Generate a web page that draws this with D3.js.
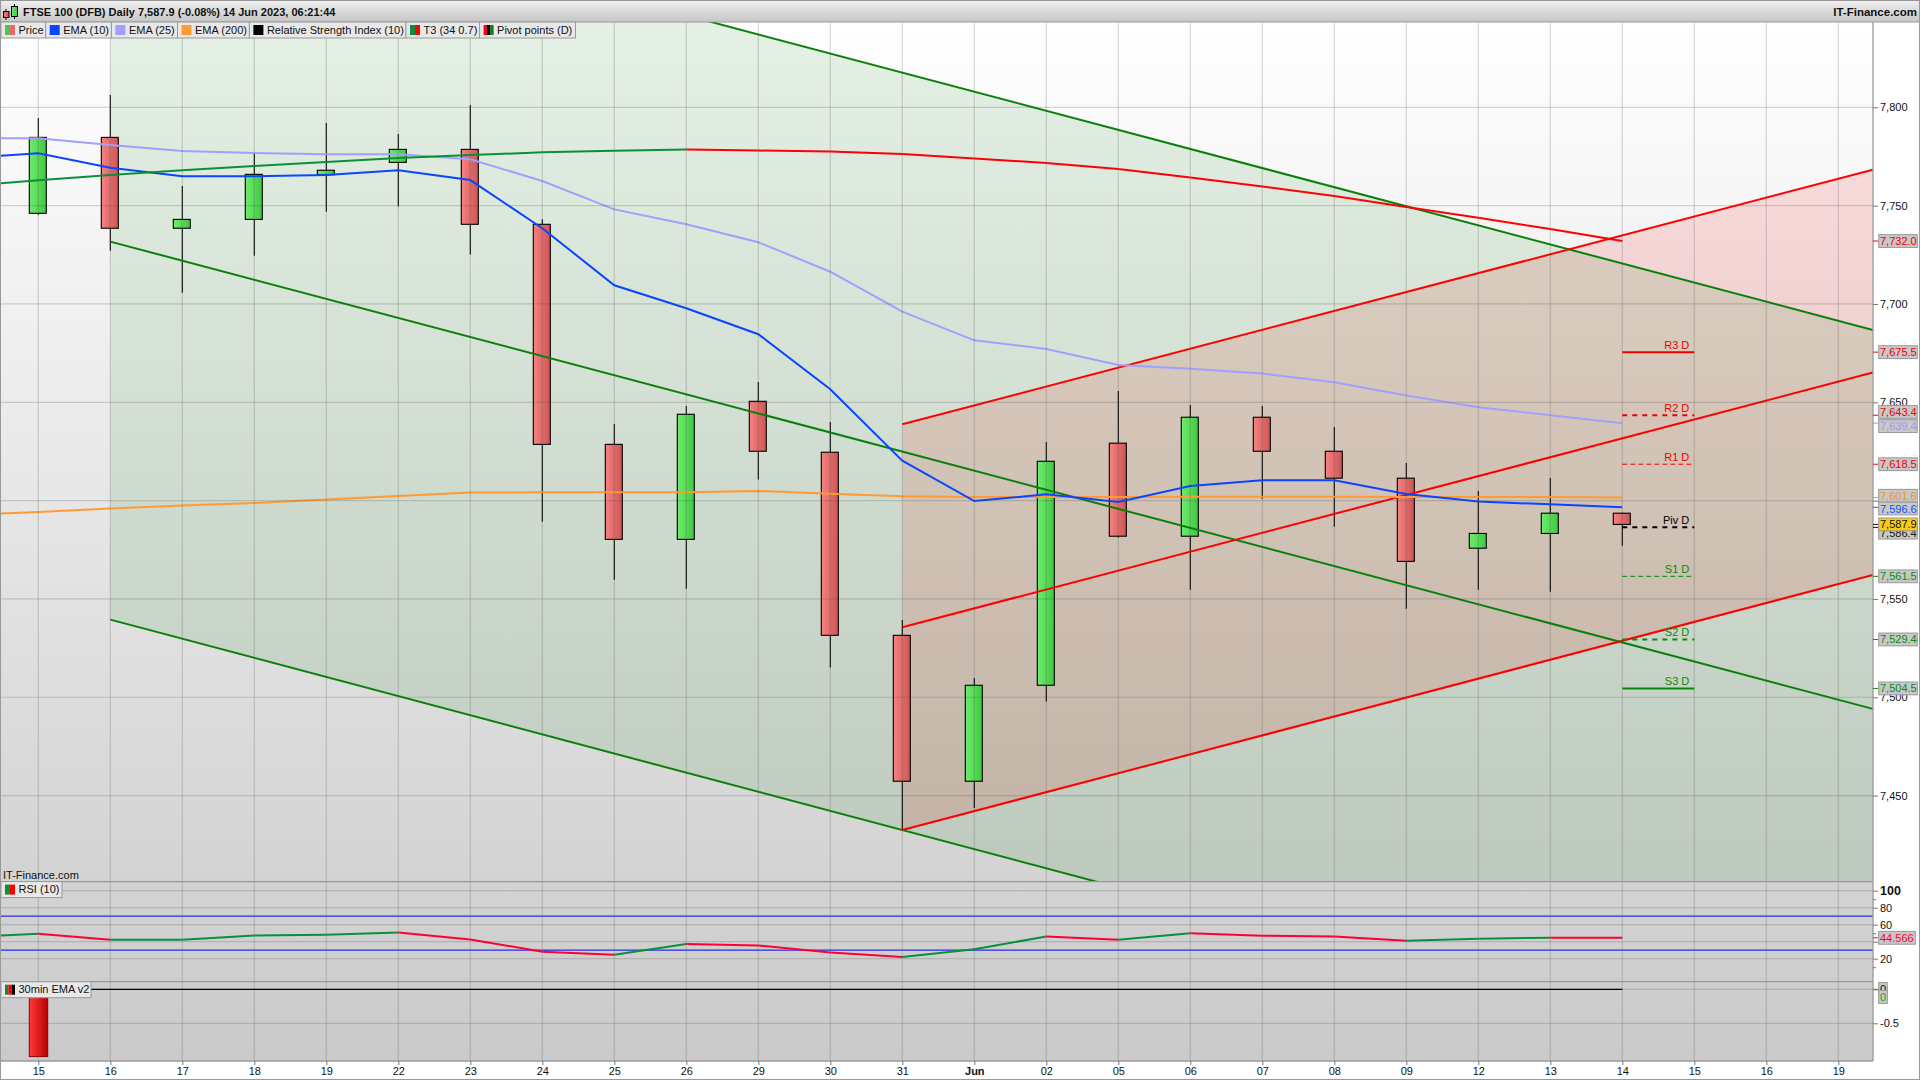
<!DOCTYPE html>
<html>
  <head>
    <title>FTSE 100 (DFB) Daily</title>
    <script src="https://d3js.org/d3.v7.min.js"></script>
    <style>
      html, body { margin: 0; padding: 0; background: #fff; overflow: hidden; }
      text { font-family: "Liberation Sans", Arial, sans-serif; font-size: 11px; fill: #111; }
      .axis path { display: none; }
      .axis line { stroke: #777; }
    </style>
  </head>
  <body>
    <div id="chart"></div>
    <script>
      // dates on the bottom axis, one per slot
      var dateLabels = ["15","16","17","18","19","22","23","24","25","26","29","30","31","Jun","02","05","06","07","08","09","12","13","14","15","16","19"];

      // candles
      var opens  = [7746.1,7784.7,7738.5,7743.0,7765.7,7772.0,7778.6,7740.5,7628.6,7580.3,7650.5,7624.6,7531.5,7457.3,7506.1,7629.2,7581.9,7642.4,7625.1,7611.4,7575.8,7583.3,7593.6];
      var highs  = [7794.6,7806.3,7760.0,7777.1,7792.0,7786.4,7801.2,7743.1,7639.0,7648.1,7660.3,7640.0,7539.3,7509.8,7629.8,7655.7,7648.6,7648.1,7637.4,7619.1,7604.9,7611.5,7594.0];
      var lows   = [7745.2,7727.1,7705.7,7724.5,7746.9,7749.5,7725.1,7589.3,7559.8,7555.2,7610.7,7515.1,7432.5,7443.7,7497.8,7581.2,7554.7,7601.0,7586.7,7545.0,7554.7,7553.7,7577.0];
      var closes = [7784.7,7738.5,7743.0,7765.9,7768.0,7778.6,7740.5,7628.6,7580.3,7643.9,7625.1,7531.5,7457.3,7506.1,7620.0,7581.9,7642.4,7625.1,7611.4,7569.1,7583.3,7593.6,7587.9];

      // moving averages, first value is the slot before the 15th (runs off the left edge)
      var ema10  = [7774.2,7776.6,7769.3,7764.9,7764.9,7765.6,7768.0,7763.0,7738.5,7709.5,7697.8,7684.6,7656.6,7620.3,7599.8,7603.2,7599.3,7607.4,7610.3,7610.3,7603.4,7599.5,7598.1,7596.6];
      var ema25  = [7784.2,7784.2,7780.8,7777.8,7776.8,7776.1,7776.1,7773.6,7762.5,7748.1,7740.5,7731.4,7716.4,7696.1,7681.5,7677.1,7669.0,7667.1,7664.6,7660.2,7653.5,7647.5,7643.4,7639.4];
      var ema200 = [7592.7,7594.2,7596.0,7597.5,7598.8,7600.6,7602.4,7604.1,7604.2,7604.2,7604.2,7604.9,7603.5,7602.2,7601.9,7601.9,7601.9,7602.0,7602.0,7602.0,7601.9,7601.9,7601.9,7601.6];
      var t3     = [7760.0,7762.9,7765.6,7768.0,7770.2,7772.2,7774.2,7775.7,7777.1,7777.9,7778.5,7778.0,7777.5,7776.3,7774.0,7771.7,7768.6,7764.3,7759.7,7754.9,7749.3,7743.8,7738.1,7732.0];

      // trend channels: [slot, price] at both ends
      var greenUpper = [[1,7924.4],[25.48,7686.8]];
      var greenMid   = [[1,7731.7],[25.48,7494.1]];
      var greenLower = [[1,7539.5],[25.48,7301.3]];
      var redUpper   = [[12,7638.8],[25.48,7768.3]];
      var redMid     = [[12,7535.6],[25.48,7665.1]];
      var redLower   = [[12,7432.5],[25.48,7562.2]];

      // pivot points
      var pivotNames  = ["R3 D","R2 D","R1 D","Piv D","S1 D","S2 D","S3 D"];
      var pivotValues = [7675.5,7643.4,7618.5,7586.4,7561.5,7529.4,7504.5];

      // last value boxes on the price axis
      var tagValues = [7732.0,7675.5,7643.4,7639.4,7618.5,7601.6,7596.6,7586.4,7587.9,7561.5,7529.4,7504.5];

      // RSI
      var rsi = [45.4,49.4,42.4,42.4,47.4,48.2,50.9,42.7,28.2,24.7,37.2,35.6,27.4,21.9,31.0,46.2,42.4,49.8,47.0,46.2,41.2,43.5,44.7,44.566];

      // 30min EMA v2
      var ema30Bars = [-0.99];
      var ema30Line = [0,0];

      var priceTicks = [7450,7500,7550,7600,7650,7700,7750,7800];
      var rsiTicks = [100,80,60,40,20];
      var rsiMinor = [90,50,10];
      var rsiBands = [70,30];
      var ema30Ticks = [0,-0.5];
      var legendNames = ["Price","EMA (10)","EMA (25)","EMA (200)","Relative Strength Index (10)","T3 (34 0.7)","Pivot points (D)"];

      var width = 1920, height = 1080;
      var plotRight = 1873, plotTop = 22, priceBottom = 881.6, rsiBottom = 981.7, plotBottom = 1061;

      var tagColors = ["#f00000","#f00000","#f00000","#9a9af5","#f00000","#f09030","#1050ff","#111","#111","#0a8a0a","#0a8a0a","#0a8a0a"];
      // boxes get pushed apart where they would collide
      var tagNudge = [0,0,-3.3,3,0,-1.7,1.2,5.3,0,0,0,0];

      var svg = d3.select("#chart").append("svg")
        .attr("width", width)
        .attr("height", height)
        .style("display", "block");
      var defs = svg.append("defs");

      function gradient(id, stops, vertical) {
        var g = defs.append("linearGradient").attr("id", id)
          .attr("x1", 0).attr("y1", 0)
          .attr("x2", vertical ? 0 : 1).attr("y2", vertical ? 1 : 0);
        stops.forEach(function(c, i) {
          g.append("stop").attr("offset", i / (stops.length - 1)).attr("stop-color", c);
        });
      }
      gradient("bg", ["#ffffff", "#cacaca"], true);
      gradient("head", ["#eeeeee", "#c6c6c6"], true);
      gradient("up", ["#6eec6e", "#40c840"], false);
      gradient("down", ["#f88282", "#cc5656"], false);
      gradient("redbar", ["#ff3a3a", "#b80000"], false);

      function clip(id, y0, y1) {
        defs.append("clipPath").attr("id", id).append("rect")
          .attr("x", 1).attr("y", y0).attr("width", plotRight - 1).attr("height", y1 - y0);
      }
      clip("clipPrice", plotTop, priceBottom);
      clip("clipRsi", priceBottom, rsiBottom);
      clip("clipEma", rsiBottom, plotBottom);

      var x = d3.scaleLinear().domain([0, 25]).range([38.3, 1838.3]);
      var y = d3.scaleLinear().domain([7800, 7450]).range([107.3, 795.6]);
      var yRsi = d3.scaleLinear().domain([100, 20]).range([890.7, 958.7]);
      var yEma = d3.scaleLinear().domain([0, -0.5]).range([989.3, 1023.3]);

      // background
      svg.append("rect").attr("x", 1).attr("y", plotTop)
        .attr("width", plotRight - 1).attr("height", plotBottom - plotTop)
        .attr("fill", "url(#bg)");

      // channel fills, red goes under green
      var price = svg.append("g").attr("clip-path", "url(#clipPrice)");
      function channelFill(a, b, color) {
        var pts = [a[0], a[1], b[1], b[0]];
        price.append("polygon")
          .attr("points", pts.map(function(p) { return x(p[0]) + "," + y(p[1]); }).join(" "))
          .attr("fill", color);
      }
      channelFill(redUpper, redLower, "rgba(255,0,0,0.12)");
      channelFill(greenUpper, greenLower, "rgba(20,130,20,0.115)");

      // grid
      var grid = svg.append("g").attr("stroke", "rgba(70,70,70,0.21)").attr("stroke-width", 1.2);
      grid.selectAll("line.v").data(dateLabels).enter().append("line")
        .attr("x1", function(d, i) { return x(i); })
        .attr("x2", function(d, i) { return x(i); })
        .attr("y1", plotTop).attr("y2", plotBottom);
      function hGrid(ticks, scale) {
        grid.selectAll(null).data(ticks).enter().append("line")
          .attr("x1", 1).attr("x2", plotRight)
          .attr("y1", function(d) { return scale(d); })
          .attr("y2", function(d) { return scale(d); });
      }
      hGrid(priceTicks, y);
      hGrid(rsiTicks, yRsi);
      hGrid(ema30Ticks, yEma);

      // candles
      var candles = price.selectAll("g.candle").data(opens).enter().append("g");
      candles.append("line")
        .attr("x1", function(d, i) { return x(i); })
        .attr("x2", function(d, i) { return x(i); })
        .attr("y1", function(d, i) { return y(highs[i]); })
        .attr("y2", function(d, i) { return y(lows[i]); })
        .attr("stroke", "#000").attr("stroke-width", 1.1);
      candles.append("rect")
        .attr("x", function(d, i) { return x(i) - 9; })
        .attr("width", 17)
        .attr("y", function(d, i) { return y(Math.max(opens[i], closes[i])); })
        .attr("height", function(d, i) { return Math.abs(y(opens[i]) - y(closes[i])); })
        .attr("fill", function(d, i) { return closes[i] > opens[i] ? "url(#up)" : "url(#down)"; })
        .attr("stroke", "#000").attr("stroke-width", 1.1);

      // channel lines
      var channelLine = d3.line().x(function(d) { return x(d[0]); }).y(function(d) { return y(d[1]); });
      [greenUpper, greenMid, greenLower].forEach(function(l) {
        price.append("path").attr("d", channelLine(l)).attr("fill", "none").attr("stroke", "#0a800a").attr("stroke-width", 2);
      });
      [redUpper, redMid, redLower].forEach(function(l) {
        price.append("path").attr("d", channelLine(l)).attr("fill", "none").attr("stroke", "#ff0000").attr("stroke-width", 2);
      });

      // indicator lines, slot of element n is n - 1
      var seriesLine = d3.line().x(function(d, i) { return x(i - 1); }).y(function(d) { return y(d); });
      function drawSeries(values, color) {
        price.append("path").attr("d", seriesLine(values)).attr("fill", "none").attr("stroke", color).attr("stroke-width", 2);
      }
      drawSeries(ema200, "#ff9a35");
      drawSeries(ema25, "#a0a0ff");
      drawSeries(ema10, "#0a46ff");

      // T3 changes colour per segment
      price.selectAll("line.t3").data(t3.slice(1)).enter().append("line")
        .attr("x1", function(d, i) { return x(i - 1); })
        .attr("y1", function(d, i) { return y(t3[i]); })
        .attr("x2", function(d, i) { return x(i); })
        .attr("y2", function(d) { return y(d); })
        .attr("stroke", function(d, i) { return d >= t3[i] ? "#08903a" : "#ff0000"; })
        .attr("stroke-width", 2);

      // pivots
      var pivotColor = ["#f00000","#f00000","#f00000","#000","#0a8a0a","#0a8a0a","#0a8a0a"];
      var pivotDash = [null, "5 5", "5 3", "5 5", "5 3", "5 5", null];
      var pivotWidth = [2, 2, 1, 2, 1, 2, 2];
      var pivots = svg.append("g");
      pivots.selectAll("line").data(pivotValues).enter().append("line")
        .attr("x1", x(22)).attr("x2", x(23))
        .attr("y1", function(d) { return y(d); })
        .attr("y2", function(d) { return y(d); })
        .attr("stroke", function(d, i) { return pivotColor[i]; })
        .attr("stroke-width", function(d, i) { return pivotWidth[i]; })
        .attr("stroke-dasharray", function(d, i) { return pivotDash[i]; });
      pivots.selectAll("text").data(pivotValues).enter().append("text")
        .attr("x", x(23) - 5).attr("y", function(d) { return y(d) - 3.5; })
        .attr("text-anchor", "end")
        .style("fill", function(d, i) { return pivotColor[i]; })
        .text(function(d, i) { return pivotNames[i]; });

      // RSI panel
      var rsiPanel = svg.append("g").attr("clip-path", "url(#clipRsi)");
      rsiPanel.selectAll("line.band").data(rsiBands).enter().append("line")
        .attr("x1", 1).attr("x2", plotRight)
        .attr("y1", function(d) { return yRsi(d); })
        .attr("y2", function(d) { return yRsi(d); })
        .attr("stroke", "#2a2ae8").attr("stroke-width", 1.2);
      rsiPanel.selectAll("line.rsi").data(rsi.slice(1)).enter().append("line")
        .attr("x1", function(d, i) { return x(i - 1); })
        .attr("y1", function(d, i) { return yRsi(rsi[i]); })
        .attr("x2", function(d, i) { return x(i); })
        .attr("y2", function(d) { return yRsi(d); })
        .attr("stroke", function(d, i) { return d >= rsi[i] ? "#08903a" : "#ff0033"; })
        .attr("stroke-width", 2);

      // 30min EMA panel
      var emaPanel = svg.append("g").attr("clip-path", "url(#clipEma)");
      emaPanel.selectAll("rect").data(ema30Bars).enter().append("rect")
        .attr("x", function(d, i) { return x(i) - 9; })
        .attr("width", 18.4)
        .attr("y", yEma(0))
        .attr("height", function(d) { return yEma(d) - yEma(0); })
        .attr("fill", "url(#redbar)")
        .attr("stroke", "#8a0000");
      emaPanel.append("path")
        .attr("d", d3.line().x(function(d, i) { return i === 0 ? 1 : x(22); }).y(function(d) { return yEma(d); })(ema30Line))
        .attr("stroke", "#000").attr("stroke-width", 1.2);

      // panel frames
      var frame = svg.append("g").attr("stroke", "#999").attr("stroke-width", 1.3);
      [priceBottom, rsiBottom, plotBottom].forEach(function(v) {
        frame.append("line").attr("x1", 0).attr("x2", plotRight).attr("y1", v).attr("y2", v);
      });
      frame.append("line").attr("x1", plotRight).attr("x2", plotRight).attr("y1", plotTop).attr("y2", plotBottom);
      svg.append("rect").attr("x", 0.5).attr("y", 0.5).attr("width", width - 1).attr("height", height - 1)
        .attr("fill", "none").attr("stroke", "#999");

      // axes
      var fmt = d3.format(",");
      svg.append("g").attr("class", "axis")
        .attr("transform", "translate(" + plotRight + ",0)")
        .call(d3.axisRight(y).tickValues(priceTicks).tickFormat(fmt).tickSize(5).tickPadding(2));
      // the 40 label is hidden behind the RSI value box in the reference
      var rsiAxis = svg.append("g").attr("class", "axis")
        .attr("transform", "translate(" + plotRight + ",0)")
        .call(d3.axisRight(yRsi).tickValues(rsiTicks).tickFormat(function(d) { return d === 40 ? "" : d; }).tickSize(5).tickPadding(2));
      rsiAxis.selectAll("text").filter(function(d) { return d === 100; })
        .style("font-weight", "bold").style("font-size", "12.5px");
      svg.append("g").attr("class", "axis")
        .attr("transform", "translate(" + plotRight + ",0)")
        .call(d3.axisRight(yRsi).tickValues(rsiMinor).tickFormat("").tickSize(3));
      svg.append("g").attr("class", "axis")
        .attr("transform", "translate(" + plotRight + ",0)")
        .call(d3.axisRight(yEma).tickValues(ema30Ticks).tickFormat(function(d) { return d === 0 ? "0" : "-0.5"; }).tickSize(5).tickPadding(2));
      var xAxis = svg.append("g").attr("class", "axis")
        .attr("transform", "translate(0," + plotBottom + ")")
        .call(d3.axisBottom(x).tickValues(d3.range(dateLabels.length))
          .tickFormat(function(i) { return dateLabels[i]; }).tickSize(4).tickPadding(2));
      xAxis.selectAll("text").filter(function(i) { return dateLabels[i] === "Jun"; })
        .style("font-weight", "bold");

      // value boxes
      function valueTag(g, yPos, nudge, label, color, bg, w) {
        g.append("line").attr("x1", plotRight).attr("x2", plotRight + 5)
          .attr("y1", yPos).attr("y2", yPos).attr("stroke", color);
        g.append("rect").attr("x", 1878.7).attr("y", yPos + nudge - 6.4)
          .attr("width", w).attr("height", 12.8)
          .attr("fill", bg).attr("stroke", "#999");
        g.append("text").attr("x", 1880).attr("y", yPos + nudge + 4)
          .style("fill", color).text(label);
      }
      var tags = svg.append("g");
      tagValues.forEach(function(v, i) {
        valueTag(tags, y(v), tagNudge[i], d3.format(",.1f")(v), tagColors[i], v === closes[closes.length - 1] ? "#f8cc10" : "#c8c8c8", 38.6);
      });
      var rsiLast = rsi[rsi.length - 1];
      valueTag(tags, yRsi(rsiLast), 0, rsiLast, "#ff0033", "#c8c8c8", 36.6);
      // zero tag sits under the axis zero
      tags.append("line").attr("x1", plotRight).attr("x2", plotRight + 5)
        .attr("y1", yEma(0)).attr("y2", yEma(0)).attr("stroke", "#1aa01a");
      tags.append("rect").attr("x", 1878.7).attr("y", 982.5).attr("width", 8.6).attr("height", 12)
        .attr("fill", "#c8c8c8").attr("stroke", "#999");
      tags.append("text").attr("x", 1880).attr("y", 992.5).text("0");
      tags.append("rect").attr("x", 1878.7).attr("y", 990.5).attr("width", 8.6).attr("height", 13)
        .attr("fill", "#c8c8c8").attr("stroke", "#999");
      tags.append("text").attr("x", 1880).attr("y", 1001).style("fill", "#1aa01a").text("0");

      // header bar
      var head = svg.append("g");
      head.append("rect").attr("x", 1).attr("y", 1).attr("width", width - 2).attr("height", plotTop - 1)
        .attr("fill", "url(#head)");
      head.append("line").attr("x1", 0).attr("x2", width).attr("y1", plotTop).attr("y2", plotTop).attr("stroke", "#999");
      head.append("line").attr("x1", 6).attr("x2", 6).attr("y1", 9).attr("y2", 20).attr("stroke", "#000");
      head.append("rect").attr("x", 3.5).attr("y", 11.5).attr("width", 5.5).attr("height", 6).attr("fill", "url(#down)").attr("stroke", "#000");
      head.append("line").attr("x1", 14.5).attr("x2", 14.5).attr("y1", 4).attr("y2", 19).attr("stroke", "#000");
      head.append("rect").attr("x", 11.5).attr("y", 6.5).attr("width", 6).attr("height", 10).attr("fill", "url(#up)").attr("stroke", "#000");
      head.append("text").attr("x", 23).attr("y", 16).style("font-weight", "bold").style("font-size", "11px")
        .text("FTSE 100 (DFB) Daily 7,587.9 (-0.08%) 14 Jun 2023, 06:21:44");
      head.append("text").attr("x", 1917).attr("y", 16).attr("text-anchor", "end")
        .style("font-weight", "bold").style("font-size", "11.5px").text("IT-Finance.com");

      // legends
      var legendEdges = [1, 45.7, 111.4, 177.5, 249.4, 406, 479.6, 575.5];
      var legendSwatch = [["#4cc94c","#e86a6a"],["#0a46ff"],["#a0a0ff"],["#ff9a35"],["#000"],["#08903a","#ff0000"],["#ff0000","#000","#0a800a"]];
      function legendBox(x0, x1, y0, name, colors) {
        var g = svg.append("g");
        g.append("rect").attr("x", x0).attr("y", y0).attr("width", x1 - x0).attr("height", 16)
          .attr("fill", "#e8e8e8").attr("stroke", "#999");
        var w = 10 / colors.length;
        colors.forEach(function(c, i) {
          g.append("rect").attr("x", x0 + 4 + i * w).attr("y", y0 + 3).attr("width", w).attr("height", 10).attr("fill", c);
        });
        g.append("text").attr("x", x0 + 17.5).attr("y", y0 + 11.5).text(name);
      }
      legendNames.forEach(function(n, i) {
        legendBox(legendEdges[i], legendEdges[i + 1], plotTop, n, legendSwatch[i]);
      });
      legendBox(1, 62, priceBottom, "RSI (10)", ["#08903a","#ff0000"]);
      legendBox(1, 91, rsiBottom, "30min EMA v2", ["#08903a","#ff0000","#000"]);
      svg.append("text").attr("x", 3).attr("y", 879).text("IT-Finance.com");
    </script>
  </body>
</html>
